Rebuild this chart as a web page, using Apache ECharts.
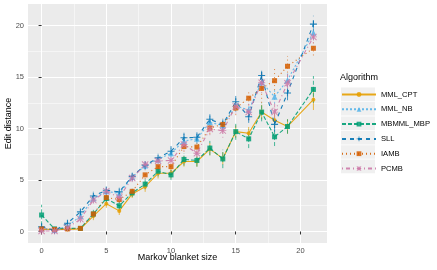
<!DOCTYPE html>
<html><head><meta charset="utf-8">
<script src="https://cdn.jsdelivr.net/npm/echarts@6/dist/echarts.min.js"></script>
<style>html,body{margin:0;padding:0;background:#fff}#c{width:437px;height:270px}</style>
</head><body><div id="c"></div><script>
// ---- data ----
const sizes = [0,1,2,3,4,5,6,7,8,9,10,11,12,13,14,15,16,17,18,19,21];
const algorithms = ['MML_CPT','MML_NB','MBMML_MBP','SLL','IAMB','PCMB'];
const mmlCpt   = [0.2,0.2,0.2,0.25,1.5,2.7,2.0,3.65,4.35,5.65,5.65,6.8,6.8,8.0,7.1,9.7,9.55,11.6,10.8,10.2,12.8];
const mmlNb    = [0.3,0.15,0.5,1.5,3.2,3.9,3.7,5.3,6.4,7.0,7.6,8.8,9.0,10.6,10.3,12.2,11.8,14.5,13.1,14.7,19.3];
const mbmmlMbp = [1.6,0.25,0.3,0.3,1.7,3.2,2.5,3.75,4.6,5.85,5.5,7.0,6.9,8.1,7.05,9.7,9.0,11.6,9.2,10.2,13.8];
const sll      = [0.45,0.1,0.8,1.9,3.45,4.0,3.85,5.35,6.45,7.15,7.8,9.1,9.15,10.9,10.4,12.6,11.15,15.15,10.4,13.45,20.15];
const iamb     = [0.25,0.2,0.25,0.3,1.7,3.3,3.1,3.9,5.5,6.3,6.3,8.25,8.2,10.05,10.4,12.0,12.95,13.9,14.65,16.05,17.8];
const pcmb     = [0.05,0.05,0.35,1.2,3.05,3.9,3.3,5.2,6.5,6.85,6.9,8.45,7.6,9.95,9.8,12.15,11.6,14.45,11.6,14.4,18.9];
// error half-widths
const errMmlCpt   = [0.2,0.1,0.1,0.1,0.4,0.4,0.4,0.4,0.5,0.5,0.5,0.5,0.5,0.6,0.6,0.6,0.6,0.7,0.7,0.7,1.0];
const errMmlNb    = [0.2,0.1,0.2,0.3,0.3,0.3,0.4,0.4,0.4,0.4,0.4,0.5,0.5,0.5,0.5,0.6,0.6,0.7,0.7,0.7,0.7];
const errMbmmlMbp = [1.0,0.1,0.1,0.1,0.4,0.4,0.4,0.4,0.5,0.5,0.5,0.6,0.6,0.7,0.9,0.8,0.9,0.9,0.9,0.7,1.3];
const errSll      = [0.3,0.1,0.2,0.3,0.4,0.4,0.4,0.4,0.4,0.4,0.5,0.5,0.5,0.5,0.5,0.6,0.6,0.7,0.7,0.7,0.8];
const errIamb     = [0.2,0.1,0.1,0.1,0.3,0.3,0.3,0.3,0.4,0.4,0.4,0.5,0.5,0.6,0.6,0.7,0.7,1.4,1.3,1.0,0.7];
const errPcmb     = [0.1,0.1,0.2,0.3,0.3,0.3,0.4,0.4,0.5,0.5,0.5,0.6,0.7,0.6,0.7,0.7,0.8,1.0,1.0,0.9,0.6];
const xTicks = [0,5,10,15,20];
const xMinor = [2.5,7.5,12.5,17.5];
const yTicks = [0,5,10,15,20];
const yMinor = [2.5,7.5,12.5,17.5];

// ---- styles ----
const values = [mmlCpt, mmlNb, mbmmlMbp, sll, iamb, pcmb];
const errs = [errMmlCpt, errMmlNb, errMbmmlMbp, errSll, errIamb, errPcmb];
const colors = ['#E69F00','#56B4E9','#009E73','#0072B2','#D55E00','#CC79A7'];
const dashes = ['solid',[2,2],[4,2],[4,4],[1,3],[1,3,4,3]];
const PLUS = 'path://M4.2,0H5.8V4.2H10V5.8H5.8V10H4.2V5.8H0V4.2H4.2Z';
const STAR = 'path://M4.4,0H5.6V10H4.4Z M0,4.4H10V5.6H0Z M1,0L10,9L9,10L0,1Z M9,0L10,1L1,10L0,9Z';
const symbols = ['circle','triangle','rect',PLUS,'rect',STAR];
const symSizes = [4,6,5,7,5,7];
const font = 'Liberation Sans, Arial, sans-serif';

const series = [];
algorithms.forEach((name, k) => {
  series.push({
    name: name + ' err', type: 'custom', xAxisIndex: 0, yAxisIndex: 0, z: 2,
    data: sizes.map((x, i) => [x, values[k][i] - errs[k][i], values[k][i] + errs[k][i]]),
    encode: {x: 0, y: [1, 2]},
    renderItem: (params, api) => {
      const a = api.coord([api.value(0), api.value(1)]);
      const b = api.coord([api.value(0), api.value(2)]);
      return {type: 'line', shape: {x1: a[0], y1: a[1], x2: b[0], y2: b[1]},
        style: {stroke: colors[k], lineWidth: 1, lineDash: dashes[k] === 'solid' ? null : dashes[k], opacity: 0.7}};
    },
    silent: true
  });
});
algorithms.forEach((name, k) => {
  series.push({
    name: name, type: 'line', xAxisIndex: 0, yAxisIndex: 0, z: 3 + k,
    data: sizes.map((x, i) => [x, values[k][i]]),
    symbol: symbols[k], symbolSize: symSizes[k], showSymbol: true,
    lineStyle: {color: colors[k], width: 1.1, type: dashes[k], opacity: 0.9},
    itemStyle: {color: colors[k], opacity: 0.85},
    emphasis: {disabled: true}, animation: false
  });
});

const chart = echarts.init(document.getElementById('c'), null, {renderer: 'canvas'});
chart.setOption({
  animation: false,
  backgroundColor: '#fff',
  title: {text: 'Algorithm', left: 340, top: 73, padding: 0,
    textStyle: {fontSize: 9, fontWeight: 'normal', color: '#000', fontFamily: font}},
  grid: {left: 28, right: 110, top: 4, bottom: 27, show: true, backgroundColor: '#EBEBEB', borderWidth: 0,
    containLabel: false, outerBoundsMode: 'none'},
  xAxis: [
    {type: 'value', min: -1.05, max: 22.05, gridIndex: 0,
      axisLine: {show: false},
      axisTick: {show: true, length: 3, customValues: xTicks, lineStyle: {color: '#333', width: 1}},
      axisLabel: {customValues: xTicks, color: '#4D4D4D', fontSize: 7.5, margin: 4, fontFamily: font},
      splitLine: {show: true, lineStyle: {color: '#fff', width: 1}},
      name: 'Markov blanket size', nameLocation: 'middle', nameGap: 10.5, nameMoveOverlap: false,
      nameTextStyle: {fontSize: 9, color: '#000', fontFamily: font}, z: 1},
    {type: 'value', min: -1.05, max: 22.05, gridIndex: 0, position: 'bottom',
      axisLine: {show: false}, axisTick: {show: false, customValues: xMinor},
      axisLabel: {show: false, customValues: xMinor},
      splitLine: {show: true, lineStyle: {color: '#fff', width: 0.5}}, z: 0}
  ],
  yAxis: [
    {type: 'value', min: -1.12, max: 22.1, gridIndex: 0,
      axisLine: {show: false},
      axisTick: {show: true, length: 3, customValues: yTicks, lineStyle: {color: '#333', width: 1}},
      axisLabel: {customValues: yTicks, color: '#4D4D4D', fontSize: 7.5, margin: 4, fontFamily: font},
      splitLine: {show: true, lineStyle: {color: '#fff', width: 1}},
      name: 'Edit distance', nameLocation: 'middle', nameGap: 15, nameRotate: 90, nameMoveOverlap: false,
      nameTextStyle: {fontSize: 9, color: '#000', fontFamily: font}, z: 1},
    {type: 'value', min: -1.12, max: 22.1, gridIndex: 0, position: 'left',
      axisLine: {show: false}, axisTick: {show: false, customValues: yMinor},
      axisLabel: {show: false, customValues: yMinor},
      splitLine: {show: true, lineStyle: {color: '#fff', width: 0.5}}, z: 0}
  ],
  legend: {
    data: algorithms, orient: 'vertical', left: 341, top: 90.5, padding: 0,
    itemWidth: 34, itemHeight: 6, itemGap: 6.8, selectedMode: false,
    textStyle: {fontSize: 7.6, color: '#000', fontFamily: font}
  },
  graphic: algorithms.map((n, i) => ({
    type: 'rect', left: 341, top: 87.6 + i * 14.4, z: 0, zlevel: 0,
    shape: {width: 34, height: 13.6}, style: {fill: '#F0F0F0'}, silent: true
  })),
  series: series
});
</script></body></html>
